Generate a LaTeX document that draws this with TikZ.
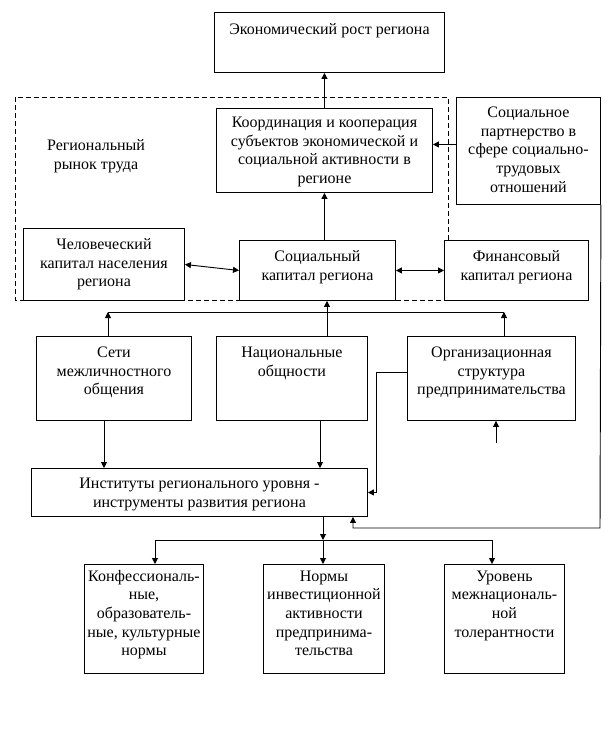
\documentclass[tikz,border=0pt]{standalone}
\usepackage{fontspec}
\setmainfont{Liberation Serif}
\usetikzlibrary{arrows.meta}

\tikzset{
	box/.style={draw, fill=white, inner sep=0pt, anchor=north west},
	>={Triangle[length=4.5pt,width=4.5pt]}
}
\newcommand{\boxtext}[4]{\parbox[t][#2][t]{#1}{\centering\rule{0pt}{#3}#4}}

\begin{document}
\fontsize{12}{14}\selectfont
\begin{tikzpicture}[x=0.75pt,y=-0.75pt,line width=0.7pt]
		\useasboundingbox (0,0) rectangle (612,732);
		\draw[dash pattern=on 3.5pt off 2.5pt] (15,97) rectangle (448,300);
		\node[align=center] (market) at (96,156) {Региональный\\рынок труда};

		\node[box] (econ) at (214,12) {\boxtext{172.5pt}{45pt}{16.5pt}{Экономический рост региона}};
		\node[box] (coord) at (216,108) {\boxtext{162pt}{63pt}{14.25pt}{Координация и кооперация\\субъектов экономической и\\социальной активности в\\регионе}};
		\node[box] (partner) at (456,97) {\boxtext{108pt}{80.25pt}{15pt}{Социальное\\партнерство в\\сфере социально-\\трудовых\\отношений}};

		\node[box] (human) at (23,228) {\boxtext{120.75pt}{54pt}{15.75pt}{Человеческий\\капитал населения\\региона}};
		\node[box] (social) at (239,240) {\boxtext{117pt}{45pt}{15.75pt}{Социальный\\капитал региона}};
		\node[box] (finance) at (444,240) {\boxtext{108pt}{45pt}{15.75pt}{Финансовый\\капитал региона}};

		\node[box] (nets) at (36,336) {\boxtext{116.25pt}{63pt}{15.75pt}{Сети\\межличностного\\общения}};
		\node[box] (nations) at (216,336) {\boxtext{113.25pt}{63pt}{15.75pt}{Национальные\\общности}};
		\node[box] (orgstruct) at (407,336) {\boxtext{126pt}{63pt}{15.75pt}{Организационная\\структура\\предпринимательства}};

		\node[box] (inst) at (31,468) {\boxtext{252pt}{36pt}{15pt}{Институты регионального уровня -\\инструменты развития региона}};

		\node[box] (confess) at (84,564) {\boxtext{89.25pt}{81.75pt}{12.4pt}{Конфессиональ-\\ные,\\образователь-\\ные, культурные\\нормы}};
		\node[box] (invest) at (263,564) {\boxtext{90.75pt}{81.75pt}{12.4pt}{Нормы\\инвестиционной\\активности\\предпринима-\\тельства}};
		\node[box] (toler) at (444,564) {\boxtext{90pt}{81.75pt}{12.4pt}{Уровень\\межнациональ-\\ной\\толерантности}};

		\draw[->] (coord.north) -- (coord.north |- econ.south);
		\draw[->] (coord.south |- social.north) -- (coord.south);
		\coordinate (pin) at ([yshift=4.5pt]coord.east);
		\draw[->] (pin -| partner.west) -- (pin);

		\draw[<->] (human.east) -- (social.west);
		\draw[<->] (social.east) -- (finance.west);

		\coordinate (busl) at (108,312);
		\coordinate (busm) at (327,312);
		\coordinate (busr) at (504,312);
		\draw (busl) -- (busr);
		\draw[->] (busl |- nets.north) -- (busl);
		\draw[->] (busr |- orgstruct.north) -- (busr);
		\draw[->] (busm |- nations.north) -- (busm |- social.south);

		\coordinate (col1) at (104,0);
		\coordinate (col2) at (320,0);
		\draw[->] (col1 |- nets.south) -- (col1 |- inst.north);
		\draw[->] (col2 |- nations.south) -- (col2 |- inst.north);
		\draw[->] ([yshift=4.5pt]orgstruct.west) -- ++(-31,0) |- (inst.east);

		\coordinate (orgfoot) at (496,443);
		\draw[->] (orgfoot) -- (orgfoot |- orgstruct.south);

		\coordinate (back) at (600,528);
		\coordinate (backx) at (353,0);
		\draw[->] (partner.south east) -- (back) -| (backx |- inst.south);

		\coordinate (split) at (323,540);
		\coordinate (splitl) at (155,540);
		\coordinate (splitr) at (492,540);
		\draw[->] (split |- inst.south) -- (split);
		\draw (splitl) -- (splitr);
		\draw[->] (splitl) -- (splitl |- confess.north);
		\draw[->] (split) -- (split |- invest.north);
		\draw[->] (splitr) -- (splitr |- toler.north);
	\end{tikzpicture}
\end{document}
